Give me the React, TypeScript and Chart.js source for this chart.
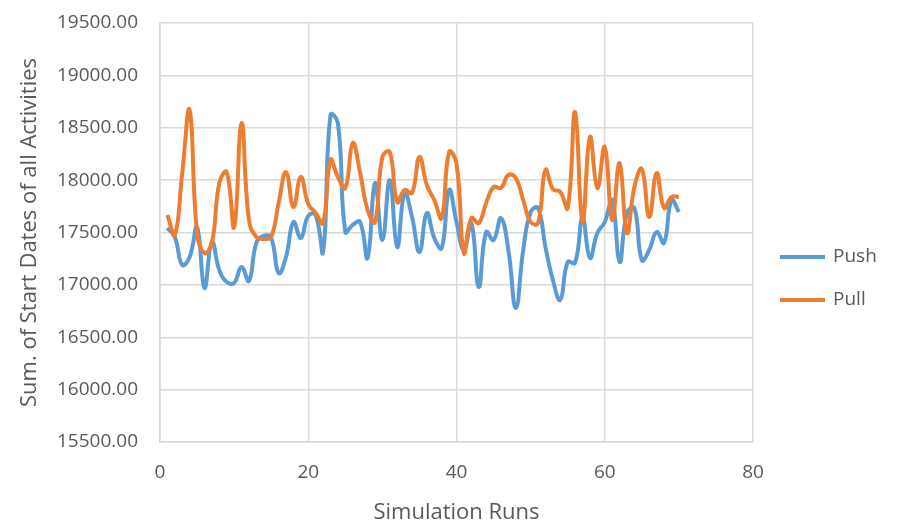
import React, { useEffect, useRef } from "react";
import { Chart, registerables } from "chart.js";

Chart.register(...registerables);

const runs: number[] = Array.from({ length: 70 }, (_, i) => i + 1);

const pushValues: number[] = [
  17543, 17457, 17190, 17266, 17552, 16970, 17410, 17142, 17027, 17018,
  17170, 17037, 17400, 17467, 17448, 17113, 17266, 17600, 17448, 17660,
  17667, 17314, 18622, 18545, 17505, 17572, 17600, 17257, 17972, 17428,
  18001, 17361, 17877, 17648, 17314, 17686, 17448, 17352, 17906, 17600,
  17333, 17590, 16980, 17505, 17428, 17638, 17333, 16779, 17333, 17696,
  17734, 17361, 17046, 16856, 17218, 17209, 17638, 17257, 17495, 17600,
  17810, 17218, 17686, 17734, 17237, 17333, 17505, 17400, 17810, 17696,
];

const pullValues: number[] = [
  17667, 17476, 18068, 18670, 17495, 17304, 17400, 17972, 18077, 17552,
  18545, 17619, 17457, 17438, 17457, 17782, 18077, 17744, 18030, 17772,
  17686, 17590, 18192, 18030, 17925, 18354, 18068, 17715, 17600, 18221,
  18268, 17791, 17906, 17877, 18221, 17953, 17810, 17638, 18268, 18160,
  17304, 17638, 17590, 17782, 17934, 17925, 18049, 18020, 17810, 17600,
  17590, 18097, 17915, 17887, 17734, 18650, 17600, 18412, 17925, 18316,
  17619, 18163, 17495, 17934, 18106, 17648, 18068, 17734, 17839, 17839,
];

const seriesNames: string[] = ["Push", "Pull"];
const seriesColors: string[] = ["#5b9bd5", "#ed7d31"];
const seriesOrder: number[] = [1, 0];

const yTicksMin = 15500;
const yTicksMax = 19500;
const yStep = 500;
const xMin = 0;
const xMax = 80;
const xStep = 20;

const xTitle = "Simulation Runs";
const yTitle = "Sum. of Start Dates of all Activities";

const FONT = "'Open Sans', 'Noto Sans', sans-serif";
const TEXT = "#595959";
const GRID = "#d9d9d9";

const sideLegend = {
  id: "sideLegend",
  afterDraw(chart: any) {
    const { ctx, chartArea } = chart;
    const x0 = chartArea.right + 27;
    const mid = (chartArea.top + chartArea.bottom) / 2 + 46;
    const gap = 43;
    const n = chart.data.datasets.length;
    ctx.save();
    chart.data.datasets.forEach((ds: any, i: number) => {
      const y = mid + (i - (n - 1) / 2) * gap;
      ctx.strokeStyle = ds.borderColor;
      ctx.lineWidth = 4;
      ctx.beginPath();
      ctx.moveTo(x0, y);
      ctx.lineTo(x0 + 45, y);
      ctx.stroke();
      ctx.fillStyle = TEXT;
      ctx.font = `19px ${FONT}`;
      ctx.textBaseline = "middle";
      ctx.textAlign = "left";
      ctx.fillText(ds.label, x0 + 53, y);
    });
    ctx.restore();
  },
};

export default function App() {
  const ref = useRef<HTMLCanvasElement>(null);

  useEffect(() => {
    if (!ref.current) return;
    const seriesData = [pushValues, pullValues];
    const chart = new Chart(ref.current, {
      type: "line",
      data: {
        datasets: seriesData.map((vals, k) => ({
          label: seriesNames[k],
          data: runs.map((r, i) => ({ x: r, y: vals[i] })),
          borderColor: seriesColors[k],
          backgroundColor: seriesColors[k],
          borderWidth: 4,
          pointRadius: 0,
          tension: 0.45,
          fill: false,
          order: seriesOrder[k],
        })),
      },
      options: {
        animation: false,
        responsive: false,
        maintainAspectRatio: false,
        layout: { padding: { left: 0, right: 161, top: 23, bottom: 0 } },
        plugins: {
          legend: { display: false },
          tooltip: { enabled: false },
        },
        scales: {
          x: {
            type: "linear",
            min: xMin,
            max: xMax,
            ticks: {
              stepSize: xStep,
              color: TEXT,
              font: { family: FONT, size: 19 },
              padding: 19,
              maxRotation: 0,
            },
            grid: { color: GRID, lineWidth: 1.5, drawTicks: false },
            border: { color: GRID, width: 1.5 },
            title: {
              display: true,
              text: xTitle,
              color: TEXT,
              font: { family: FONT, size: 22 },
              padding: { top: 0, bottom: -2 },
            },
            afterFit: (s: any) => {
              s.height = 82;
            },
          },
          y: {
            min: yTicksMin,
            max: yTicksMax,
            ticks: {
              stepSize: yStep,
              color: TEXT,
              font: { family: FONT, size: 19 },
              padding: 22,
              callback: (v: any) => Number(v).toFixed(2),
            },
            grid: { color: GRID, lineWidth: 1.5, drawTicks: false },
            border: { color: GRID, width: 1.5 },
            title: {
              display: true,
              text: yTitle,
              color: TEXT,
              font: { family: FONT, size: 22 },
              padding: { top: 17, bottom: 0 },
            },
            afterFit: (s: any) => {
              s.width = 160;
              s.paddingTop = 0;
              s.paddingBottom = 0;
            },
          },
        },
      },
      plugins: [sideLegend],
    });
    return () => chart.destroy();
  }, []);

  return (
    <div style={{ position: "absolute", left: 0, top: 0, width: 914, height: 524, background: "#fff" }}>
      <canvas ref={ref} width={914} height={524} style={{ width: 914, height: 524 }} />
    </div>
  );
}
